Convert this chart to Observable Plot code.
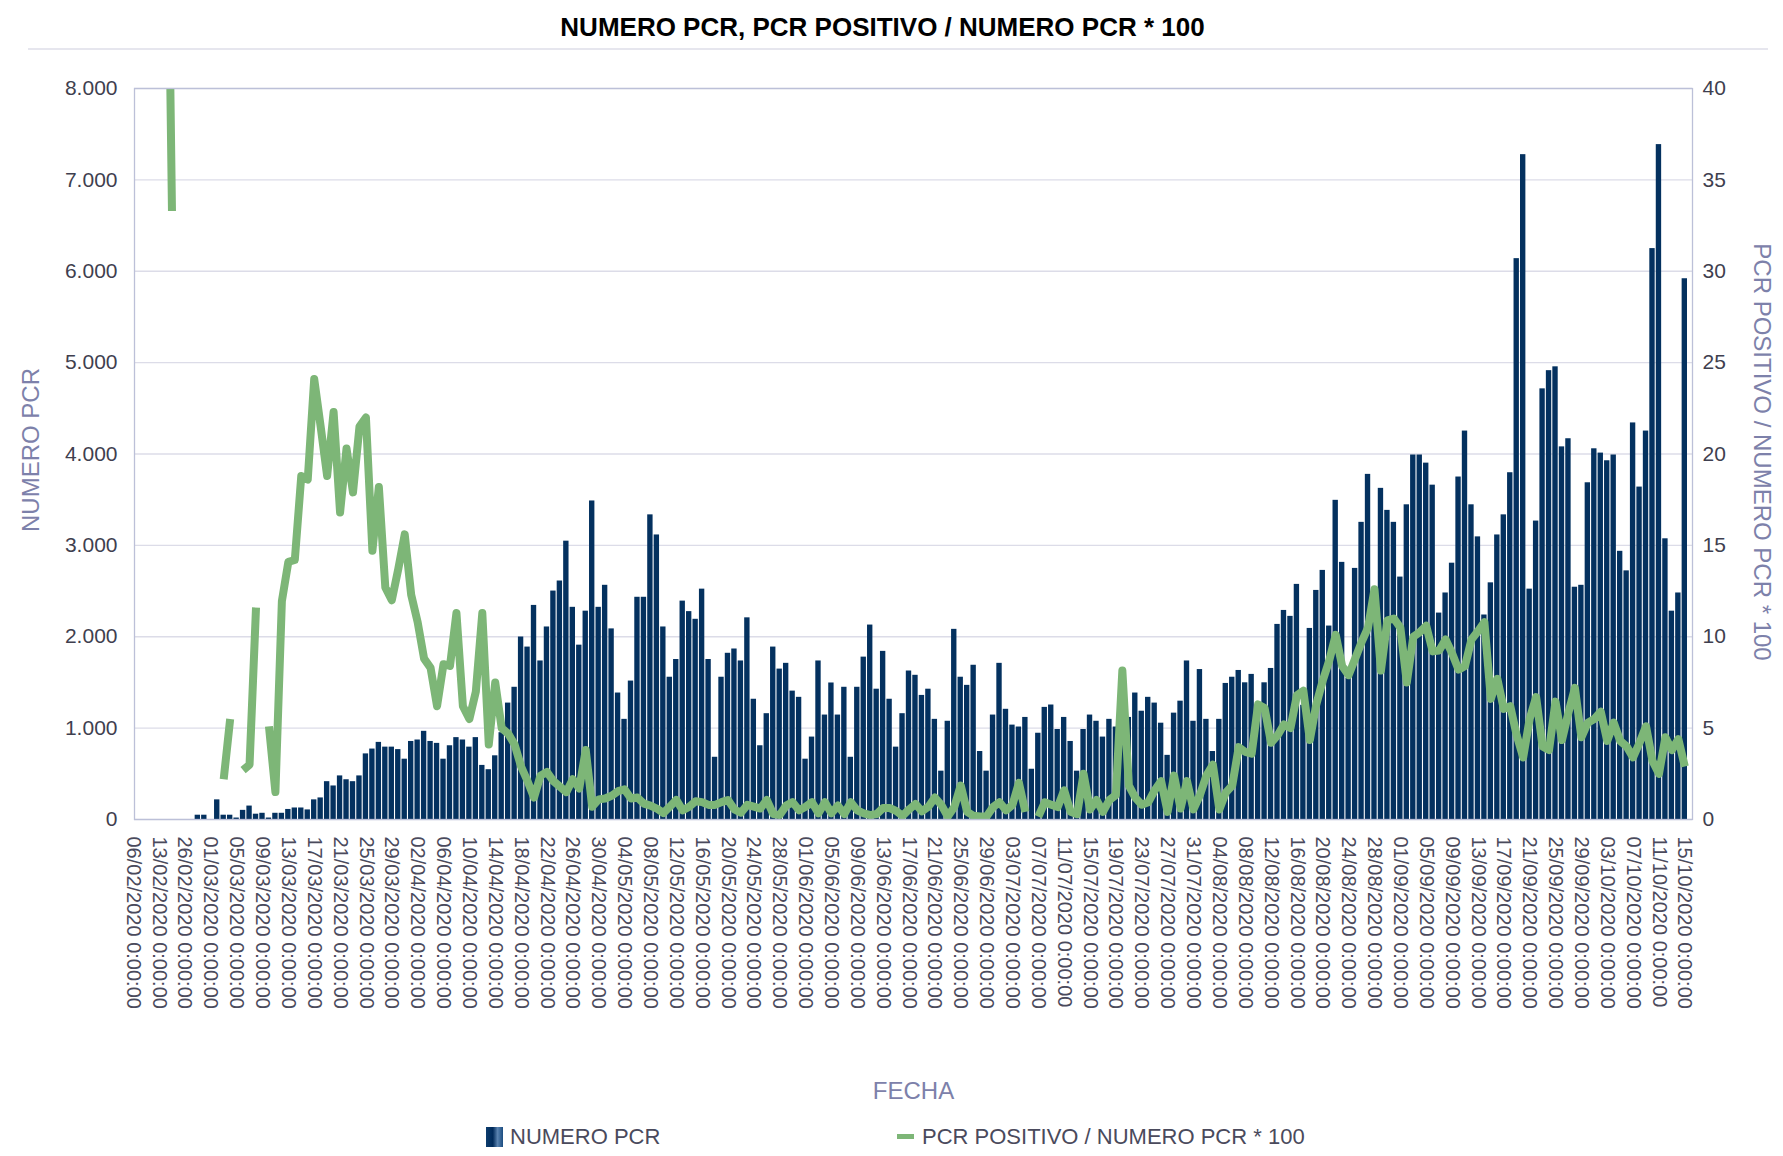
<!DOCTYPE html>
<html><head><meta charset="utf-8">
<script src="https://cdn.jsdelivr.net/npm/d3@7"></script>
<script src="https://cdn.jsdelivr.net/npm/@observablehq/plot@0.6"></script>
<style>
body{margin:0;background:#fff;width:1783px;height:1156px;position:relative;overflow:hidden;font-family:"Liberation Sans",Arial,sans-serif}
#title{position:absolute;top:14px;left:0;width:1765px;text-align:center;font-weight:bold;font-size:26px;line-height:26px;color:#000}
#rule{position:absolute;top:48px;left:28px;width:1740px;height:2px;background:#e6e6ee}
#chart{position:absolute;top:60px;left:0}
.leg{position:absolute;top:1126px;font-size:22px;line-height:22px;color:#4a4a5c;white-space:nowrap}
.ico{position:absolute}
</style></head><body>
<div id="title">NUMERO PCR, PCR POSITIVO / NUMERO PCR * 100</div>
<div id="rule"></div>
<div id="chart"></div>
<div class="ico" style="left:486px;top:1127px;width:17px;height:20px;background:linear-gradient(90deg,#0c3c6d 0%,#002a5a 40%,#5a83b0 68%,#1b4c80 100%)"></div>
<div class="leg" style="left:510px">NUMERO PCR</div>
<div class="ico" style="left:897px;top:1134px;width:17px;height:5px;background:#7db677"></div>
<div class="leg" style="left:922px">PCR POSITIVO / NUMERO PCR * 100</div>
<script>
// Categories (dates present in the source table)
const earlyDates = ["06/02/2020","07/02/2020","10/02/2020","11/02/2020","13/02/2020","17/02/2020","20/02/2020","24/02/2020"];
const fmtDate = d3.timeFormat("%d/%m/%Y");
const dailyDates = d3.timeDay.range(new Date(2020,1,26), new Date(2020,9,16)).map(fmtDate);
const fechas = earlyDates.concat(dailyDates);

// NUMERO PCR (left axis)
const numeroPCR = [0,0,0,0,0,0,0,0,0,0,
47,47,0,215,47,47,16,100,147,58,
68,16,68,68,110,126,126,105,215,236,
414,367,477,435,414,477,718,771,844,792,
792,765,660,854,870,965,854,833,660,807,
896,870,792,896,592,545,697,950,1274,1447,
1997,1887,2343,1735,2107,2500,2610,3046,2322,1908,
2280,3486,2322,2563,2086,1384,1096,1515,2432,2432,
3334,3114,2107,1557,1751,2390,2275,2191,2521,1751,
681,1557,1819,1866,1735,2207,1316,807,1158,1887,
1646,1709,1405,1337,660,902,1735,1143,1494,1143,
1447,681,1447,1777,2128,1426,1840,1316,792,1158,
1625,1578,1358,1426,1096,529,1075,2081,1557,1468,
1688,744,529,1143,1709,1206,1033,1012,1117,550,
944,1227,1253,985,1117,854,529,985,1143,1075,
902,1096,1012,1100,1117,1384,1185,1337,1274,1054,
702,1164,1295,1735,1075,1641,1096,744,1096,1489,
1557,1631,1496,1588,1150,1496,1653,2135,2288,2223,
2573,1250,2091,2507,2726,2117,3493,2814,1544,2748,
3252,3777,2350,3624,3383,3252,2653,3444,3989,3989,
3900,3659,2259,2479,2805,3748,4251,3444,3093,2238,
2590,3114,3334,3795,6138,7276,2521,3266,4713,4912,
4954,4078,4167,2542,2563,3685,4057,4010,3926,3989,
2935,2721,4340,3638,4251,6248,7386,3072,2280,2479,
5918];

// PCR POSITIVO / NUMERO PCR * 100 (right axis), null = no value
const pctPositivo = [null,null,null,null,null,60,33.3,null,null,null,
null,null,null,null,2.2,5.5,null,2.7,3.0,11.6,
null,5.1,1.5,11.95,14.1,14.2,18.8,18.6,24.1,21.5,
18.8,22.3,16.8,20.3,17.9,21.5,22.0,14.7,18.2,12.7,
12.0,13.7,15.6,12.3,10.8,8.8,8.3,6.2,8.5,8.4,
11.3,6.2,5.5,7.0,11.3,4.1,7.5,5.0,4.7,4.1,
2.9,2.1,1.2,2.4,2.6,2.1,1.8,1.5,2.2,1.7,
3.8,0.7,1.1,1.15,1.3,1.55,1.65,1.15,1.2,0.87,
0.76,0.6,0.35,0.7,1.07,0.5,0.7,1.0,0.95,0.8,
0.8,0.95,1.07,0.55,0.37,0.8,0.7,0.6,1.07,0.3,
0.25,0.76,0.95,0.5,0.7,0.95,0.34,0.95,0.34,0.76,
0.3,0.95,0.5,0.34,0.24,0.3,0.63,0.63,0.47,0.2,
0.55,0.85,0.45,0.7,1.2,0.8,0.16,0.68,1.86,0.42,
0.2,0.16,0.16,0.68,0.94,0.5,0.8,2.0,0.42,null,
0.16,0.94,0.81,0.68,1.6,0.42,0.29,2.5,0.55,1.07,
0.42,1.07,1.34,8.15,1.86,1.2,0.81,0.94,1.6,2.1,
0.42,2.4,0.6,2.1,0.55,1.34,2.4,3.0,0.55,1.47,
1.86,3.96,3.7,3.6,6.3,6.1,4.2,4.6,5.2,5.0,
6.8,7.05,4.35,6.3,7.6,8.7,10.1,8.4,7.9,8.8,
9.7,10.5,12.6,8.15,10.9,11.0,10.5,7.5,10.0,10.25,
10.6,9.2,9.25,9.85,9.1,8.2,8.4,9.85,10.3,10.8,
6.6,7.7,6.05,6.2,4.6,3.4,5.5,6.7,4.0,3.8,
6.45,4.35,5.85,7.2,4.5,5.3,5.5,5.9,4.3,5.3,
4.3,4.0,3.4,4.2,5.1,3.2,2.5,4.5,3.8,4.4,
2.9];

const leftTicks = [0,1000,2000,3000,4000,5000,6000,7000,8000];
const rightTicks = [0,5,10,15,20,25,30,35,40];
const xTickLabels = fechas.filter((d,i) => i % 4 === 0);

const rows = fechas.map((f,i) => ({fecha: f, pcr: numeroPCR[i], pct: pctPositivo[i]}));
const ratio = 8000 / 40;
const fmtNum = d3.formatLocale({decimal: ",", thousands: ".", grouping: [3], currency: ["", "€"]}).format(",");
const axisCol = "#3f3f4f", titleCol = "#7d81aa";

const chart = Plot.plot({
  width: 1783, height: 1045,
  marginTop: 28, marginBottom: 286, marginLeft: 134, marginRight: 91,
  style: {fontFamily: '"Liberation Sans", Arial, sans-serif', fontSize: "21px", background: "transparent", overflow: "visible"},
  x: {type: "band", domain: fechas, range: [130, 1687], paddingInner: 0.17, paddingOuter: 0, axis: null},
  y: {domain: [0, 8000], axis: null},
  marks: [
    Plot.ruleY(leftTicks, {stroke: "#dcdce8", strokeWidth: 1.3}),
    Plot.barY(rows, {x: "fecha", y: "pcr", fill: "#04315f"}),
    Plot.line(rows, {x: "fecha", y: d => d.pct == null ? NaN : d.pct * ratio, stroke: "#7db677", strokeWidth: 8, strokeLinejoin: "round", strokeLinecap: "butt", clip: true}),
    Plot.frame({stroke: "#bcc0d8", strokeWidth: 1.3}),
    Plot.axisY(leftTicks, {anchor: "left", tickSize: 0, tickPadding: 17, tickFormat: fmtNum, fontSize: 21, color: axisCol, label: null}),
    Plot.axisY(rightTicks.map(v => v * ratio), {anchor: "right", tickSize: 0, tickPadding: 10, tickFormat: d => String(d / ratio), fontSize: 21, color: axisCol, label: null}),
    Plot.axisX(xTickLabels, {anchor: "bottom", tickSize: 0, tickPadding: 17, tickRotate: 90, tickFormat: d => d + " 0:00:00", fontSize: 20, color: "#4a4a5c", label: null}),
    Plot.text(["NUMERO PCR"], {text: d => d, frameAnchor: "left", textAnchor: "middle", dx: -103, dy: -4, rotate: -90, fontSize: 24, fill: titleCol}),
    Plot.text(["PCR POSITIVO / NUMERO PCR * 100"], {text: d => d, frameAnchor: "right", textAnchor: "middle", dx: 69, dy: -2, rotate: 90, fontSize: 24, fill: titleCol}),
    Plot.text(["FECHA"], {text: d => d, frameAnchor: "bottom", dy: 279, fontSize: 24, fill: titleCol})
  ]
});
document.getElementById("chart").appendChild(chart);
</script>
</body></html>
